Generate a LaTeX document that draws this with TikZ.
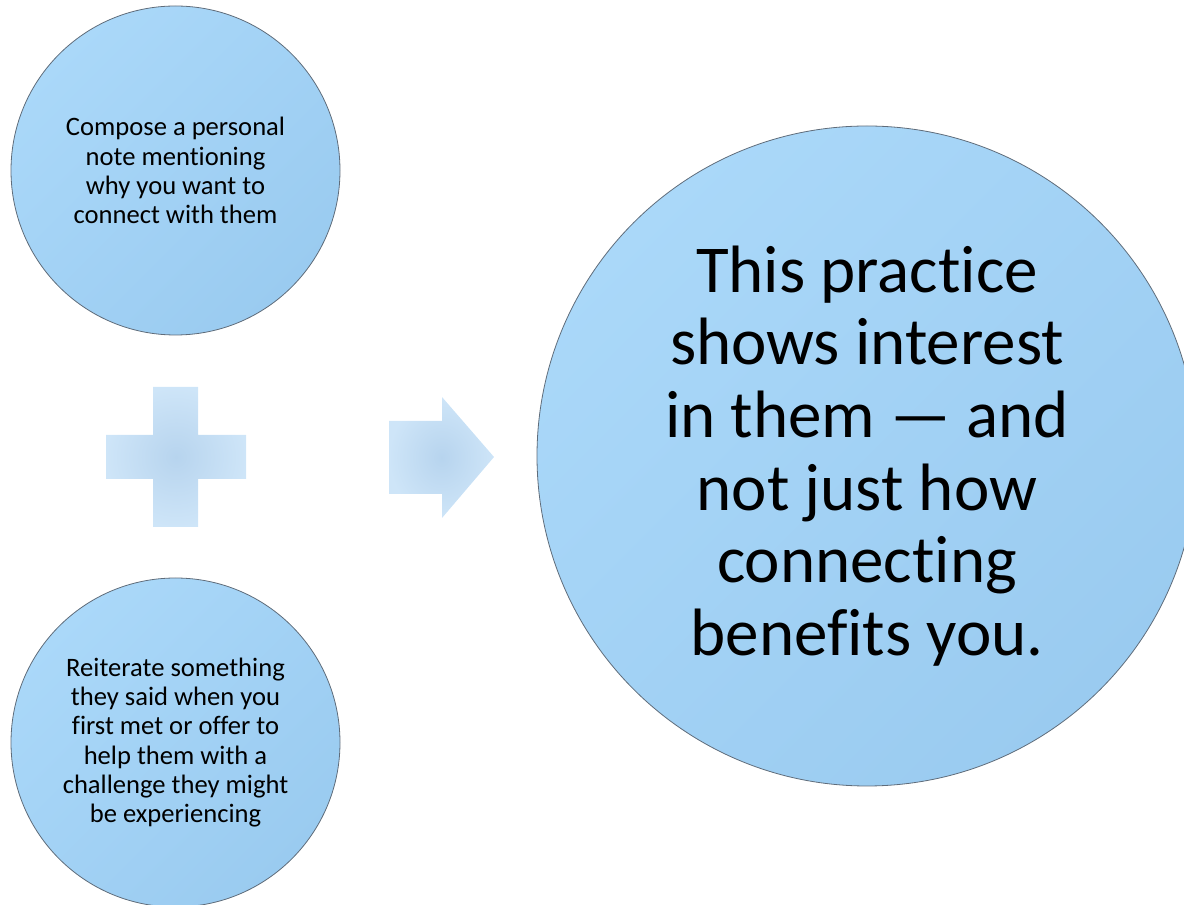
\documentclass[tikz,border=0pt]{standalone}
\usepackage{fontspec}
\setmainfont{Carlito}[Ligatures=NoCommon]
\definecolor{bubbleLight}{RGB}{170,216,249}
\definecolor{bubbleDark}{RGB}{154,203,240}
\definecolor{bubbleEdge}{RGB}{95,108,122}
\definecolor{signLight}{RGB}{206,229,248}
\definecolor{signCore}{RGB}{183,212,238}
\tikzset{
  bubble/.style={circle, inner sep=0pt, align=center, text=black,
    draw=bubbleEdge, line width=0.8pt,
    top color=bubbleLight, bottom color=bubbleDark, shading angle=45},
  smalltext/.style={font=\fontsize{26.6}{29.2}\selectfont},
  bigtext/.style={font=\fontsize{67}{72.6}\selectfont},
  signshape/.style={inner color=signCore, outer color=signLight}
}
\begin{document}
\begin{tikzpicture}[x=1pt,y=1pt]
  \useasboundingbox (0,0) rectangle (1184,905);
  \clip (0,0) rectangle (1184,905);

  % two input bubbles on the left
  \node[bubble, smalltext, minimum size=329pt] (note) at (175.5,734.5)
    {Compose a personal\\note mentioning\\why you want to\\connect with them};
  \node[bubble, smalltext, minimum size=329pt] (help) at (175.5,162.5)
    {Reiterate something\\they said when you\\first met or offer to\\help them with a\\challenge they might\\be experiencing};

  % result bubble on the right
  \node[bubble, bigtext, minimum size=660pt] (result) at (867,449)
    {This practice\\shows interest\\in them --- and\\not just how\\connecting\\benefits you.};

  % plus sign between the two inputs
  \coordinate (plus) at (176,448);
  \shade[signshape]
    (153,518) -- (198,518) -- (198,470) -- (246,470) -- (246,426)
    -- (198,426) -- (198,378) -- (153,378) -- (153,426) -- (106,426)
    -- (106,470) -- (153,470) -- cycle;

  % arrow pointing to the result
  \coordinate (arrowtip) at (494,448);
  \shade[signshape]
    (389,484) -- (442,484) -- (442,508) -- (arrowtip) -- (442,387)
    -- (442,411) -- (389,411) -- cycle;
\end{tikzpicture}
\end{document}
